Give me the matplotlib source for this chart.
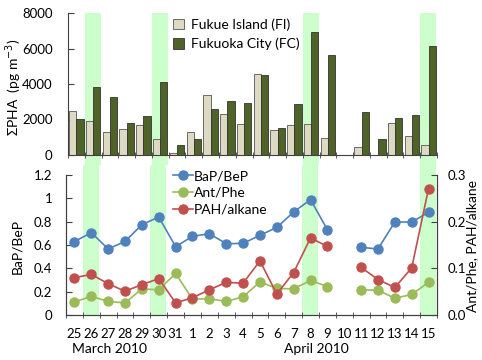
import matplotlib

matplotlib.use('Agg')
import numpy as np
import matplotlib.pyplot as plt
import matplotlib.ticker as ticker
from matplotlib.lines import Line2D
from matplotlib.patches import Patch

plt.rcParams.update({
    'font.family': ['Lato', 'DejaVu Sans'],
    'font.size': 9,
})

# days: 25-31 March, 1-15 April 2010
days = ['25', '26', '27', '28', '29', '30', '31',
        '1', '2', '3', '4', '5', '6', '7', '8', '9', '10',
        '11', '12', '13', '14', '15']

# sum of PAHs (pg m-3)
pha_fi = [2460, 1915, 1315, 1485, 1710, 900, 130,
          1315, 3380, 2310, 1765, 4560, 1410, 1710, 1745, 940, 0,
          430, np.nan, 1800, 1090, 580]
pha_fc = [2010, 3850, 3250, 1820, 2215, 4095, 580,
          880, 2590, 3020, 2930, 4525, 1540, 2890, 6910, 5650, np.nan,
          2400, 900, 2065, 2250, 6120]

# ratios
bap_bep = [0.629, 0.706, 0.566, 0.631, 0.774, 0.840, 0.586,
           0.674, 0.697, 0.611, 0.614, 0.683, 0.751, 0.883, 0.989, 0.731, np.nan,
           0.580, 0.566, 0.797, 0.797, 0.880]
ant_phe = [0.028, 0.040, 0.029, 0.026, 0.056, 0.054, 0.089,
           0.034, 0.035, 0.029, 0.039, 0.071, 0.057, 0.056, 0.074, 0.061, np.nan,
           0.054, 0.053, 0.036, 0.044, 0.070]
pah_alkane = [0.080, 0.087, 0.067, 0.051, 0.065, 0.078, 0.026,
              0.037, 0.054, 0.070, 0.068, 0.116, 0.045, 0.091, 0.165, 0.147, np.nan,
              0.102, 0.076, 0.059, 0.101, 0.271]

# highlighted days (index in days list)
event_days = ['26', '30', '8', '15']
event_idx = [1, 5, 14, 21]

c_fi = '#DDD9C3'
c_fc = '#4F6228'
c_blue = '#4F81BD'
c_green = '#9BBB59'
c_red = '#C0504D'
c_band = '#CCFFCC'

x = np.arange(len(days))

fig = plt.figure(figsize=(4.82, 3.6), dpi=100)
W, H = 482, 360
ax1 = fig.add_axes([68 / W, 1 - 155 / H, (437 - 68) / W, 142 / H])
ax2 = fig.add_axes([66 / W, 1 - 315 / H, (437 - 66) / W, 140 / H])
ax3 = ax2.twinx()

# green bands
for i in event_idx:
    ax1.axvspan(i - 0.5, i + 0.45, ymin=-0.07, ymax=1, color=c_band, lw=0,
                zorder=0, clip_on=False)
    ax2.axvspan(i - 0.5, i + 0.45, ymin=0, ymax=1.075, color=c_band, lw=0,
                zorder=0, clip_on=False)

# top: bars
bw = 0.43
ax1.bar(x - bw / 2, pha_fi, bw, color=c_fi, edgecolor='#555555', linewidth=0.6, zorder=2)
ax1.bar(x + bw / 2, pha_fc, bw, color=c_fc, edgecolor='#333333', linewidth=0.6, zorder=2)
ax1.set_xlim(-0.5, len(days) - 0.5)
ax1.set_ylim(0, 8000)
ax1.yaxis.set_major_locator(ticker.MultipleLocator(2000))
ax1.xaxis.set_major_locator(ticker.NullLocator())
ax1.xaxis.set_minor_locator(ticker.FixedLocator(np.arange(-0.5, len(days), 1)))
ax1.tick_params(axis='x', which='minor', direction='inout', length=4, color='#404040')
ax1.tick_params(axis='y', direction='in', length=4, pad=11, labelsize=9.5, color='#404040')
for s in ['top', 'right']:
    ax1.spines[s].set_visible(False)
for s in ['left', 'bottom']:
    ax1.spines[s].set_color('#404040')
ax1.set_ylabel(r'ΣPHA  (pg m$^{-3}$)', fontsize=10)
ax1.yaxis.set_label_coords(-0.118, 0.48)
leg1 = ax1.legend(handles=[Patch(facecolor=c_fi, edgecolor='#555555', lw=0.6, label='Fukue Island (FI)'),
                           Patch(facecolor=c_fc, edgecolor='#333333', lw=0.6, label='Fukuoka City (FC)')],
                  loc='upper left', bbox_to_anchor=(0.25, 1.05), frameon=False,
                  fontsize=10, handlelength=0.8, handleheight=0.8, handletextpad=0.5,
                  labelspacing=0.5)

# bottom: ratios
ax2.plot(x, bap_bep, color=c_blue, marker='o', markersize=6.5, lw=1.2, zorder=3)
ax3.plot(x, ant_phe, color=c_green, marker='o', markersize=6.5, lw=1.2, zorder=3)
ax3.plot(x, pah_alkane, color=c_red, marker='o', markersize=6.5, lw=1.2, zorder=3)
ax2.set_xlim(-0.5, len(days) - 0.5)
ax2.set_ylim(0, 1.2)
ax3.set_ylim(0, 0.3)
ax2.yaxis.set_major_locator(ticker.MultipleLocator(0.2))
ax2.yaxis.set_major_formatter(ticker.FuncFormatter(lambda v, p: f'{v:g}'))
ax3.yaxis.set_major_locator(ticker.MultipleLocator(0.1))
ax3.yaxis.set_major_formatter(ticker.FormatStrFormatter('%.1f'))
ax2.set_xticks(x)
ax2.set_xticklabels(days)
ax2.xaxis.set_minor_locator(ticker.FixedLocator(np.arange(-0.5, len(days), 1)))
ax2.tick_params(axis='x', which='major', length=0, pad=9, labelsize=9.5)
ax2.tick_params(axis='x', which='minor', direction='inout', length=4, color='#404040')
ax2.tick_params(axis='y', direction='in', length=4, pad=10, labelsize=9.5, color='#404040')
ax3.tick_params(axis='y', direction='in', length=4, pad=8, labelsize=9.5, color='#404040')
for a in [ax2, ax3]:
    a.spines['top'].set_visible(False)
    for s in ['left', 'bottom', 'right']:
        a.spines[s].set_color('#404040')
ax2.set_ylabel('BaP/BeP', fontsize=10)
ax2.yaxis.set_label_coords(-0.115, 0.49)
ax3.set_ylabel('Ant/Phe, PAH/alkane', fontsize=10)
ax3.yaxis.set_label_coords(1.078, 0.49)

ax2.text(2.1, -0.245, 'March 2010', transform=ax2.get_xaxis_transform(),
         ha='center', va='center', fontsize=10)
ax2.text(14.36, -0.245, 'April 2010', transform=ax2.get_xaxis_transform(),
         ha='center', va='center', fontsize=10)

handles = [Line2D([], [], color=c_blue, marker='o', markersize=6.5, lw=1.2, label='BaP/BeP'),
           Line2D([], [], color=c_green, marker='o', markersize=6.5, lw=1.2, label='Ant/Phe'),
           Line2D([], [], color=c_red, marker='o', markersize=6.5, lw=1.2, label='PAH/alkane')]
ax3.legend(handles=handles, loc='upper left', bbox_to_anchor=(0.255, 1.125), frameon=False,
           fontsize=10, handlelength=1.4, handletextpad=0.1, labelspacing=0.35)

plt.savefig('out.png', dpi=100)
